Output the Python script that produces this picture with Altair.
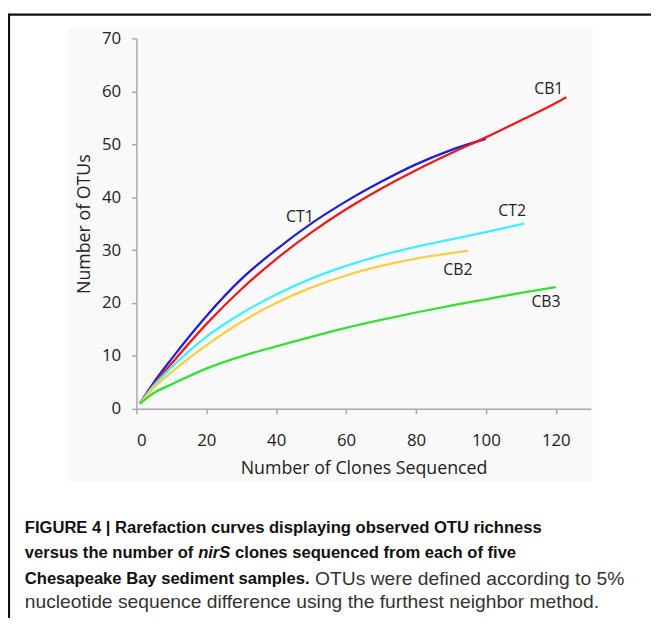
import altair as alt
import pandas as pd

# ---- data ----
ct1_x = [1, 5, 10, 20, 30, 40, 50, 60, 70, 80, 90, 100]
ct1_y = [1, 5.0, 9.4, 17.5, 24.5, 30.1, 35.0, 39.2, 42.9, 46.2, 48.9, 51.0]

cb1_x = [1, 5, 10, 20, 30, 40, 50, 60, 70, 80, 90, 100, 110, 120, 123]
cb1_y = [1, 4.6, 8.5, 16.0, 22.6, 28.3, 33.3, 37.7, 41.6, 45.1, 48.3, 51.3, 54.5, 57.8, 58.9]

ct2_x = [1, 5, 10, 20, 30, 40, 50, 60, 70, 80, 90, 100, 111]
ct2_y = [1, 4.4, 7.8, 13.6, 18.0, 21.6, 24.6, 27.0, 29.0, 30.6, 32.0, 33.4, 35.0]

cb2_x = [1, 5, 10, 20, 30, 40, 50, 60, 70, 80, 90, 95]
cb2_y = [1, 4.0, 6.9, 12.0, 16.4, 20.0, 22.9, 25.2, 27.0, 28.4, 29.4, 29.9]

cb3_x = [1, 5, 10, 20, 30, 40, 50, 60, 70, 80, 90, 100, 110, 120]
cb3_y = [1, 3.0, 4.6, 7.6, 9.9, 11.8, 13.6, 15.3, 16.8, 18.2, 19.5, 20.7, 21.9, 23.0]

series_names = ["CT1", "CB1", "CT2", "CB2", "CB3"]
series_colors = ["#1f1fd6", "#f01818", "#3ff0ff", "#f7cf45", "#34e034"]

label_text = ["CB1", "CT1", "CT2", "CB2", "CB3"]
label_x = [118.0, 46.8, 107.5, 92.0, 117.2]
label_y = [60.5, 36.2, 37.3, 26.2, 20.1]

x_ticks = list(range(0, 131, 10))
y_ticks = list(range(0, 71, 5))

caption_lines = [
    "FIGURE 4 | Rarefaction curves displaying observed OTU richness",
    "versus the number of",
    "nirS",
    "clones sequenced from each of five",
    "Chesapeake Bay sediment samples.",
    "OTUs were defined according to 5%",
    "nucleotide sequence difference using the furthest neighbor method.",
]

rows = []
for name, xs, ys in [("CT1", ct1_x, ct1_y), ("CB1", cb1_x, cb1_y),
                     ("CT2", ct2_x, ct2_y), ("CB2", cb2_x, cb2_y),
                     ("CB3", cb3_x, cb3_y)]:
    for i, (xv, yv) in enumerate(zip(xs, ys)):
        rows.append({"series": name, "clones": xv, "otus": yv, "order": i})
df = pd.DataFrame(rows)
labels_df = pd.DataFrame({"text": label_text, "clones": label_x, "otus": label_y})

AX = "#a9a9a9"
FONT = "Open Sans"

x_enc = alt.X(
    "clones:Q",
    scale=alt.Scale(domain=[0, 130], nice=False, zero=True),
    axis=alt.Axis(
        values=x_ticks,
        labelExpr="(datum.value % 20 == 0 && datum.value <= 120) ? datum.label : ''",
        title="Number of Clones Sequenced",
        grid=False, domainColor=AX, domainWidth=1.5, tickColor=AX, tickWidth=1.5,
        tickSize=5, labelFont=FONT, labelFontSize=17, labelColor="#222222",
        labelPadding=19, titleFont=FONT, titleFontSize=18, titleFontWeight="normal",
        titleColor="#222222", titlePadding=12, labelOverlap=False, zindex=2,
    ),
)
y_enc = alt.Y(
    "otus:Q",
    scale=alt.Scale(domain=[0, 70], nice=False),
    axis=alt.Axis(
        values=y_ticks,
        labelExpr="datum.value % 10 == 0 ? datum.label : ''",
        title="Number of OTUs",
        grid=False, domainColor=AX, domainWidth=1.5, tickColor=AX, tickWidth=1.5,
        tickSize=5, labelFont=FONT, labelFontSize=17, labelColor="#222222",
        labelPadding=11, titleFont=FONT, titleFontSize=18, titleFontWeight="normal",
        titleColor="#222222", titlePadding=8, labelOverlap=False, zindex=2,
    ),
)

color_enc = alt.Color("series:N", scale=alt.Scale(domain=series_names, range=series_colors), legend=None)

# first copy of the lines carries the axes; it is covered by the panel background
lines_axes = alt.Chart(df).mark_line(interpolate="monotone", strokeWidth=2.3).encode(
    x=x_enc, y=y_enc, color=color_enc, order="order:Q",
)
lines = alt.Chart(df).mark_line(interpolate="monotone", strokeWidth=2.3).encode(
    x="clones:Q", y="otus:Q", color=color_enc, order="order:Q",
)

texts = alt.Chart(labels_df).mark_text(font=FONT, fontSize=16, color="#222222").encode(
    x="clones:Q", y="otus:Q", text="text:N"
)

# ---- frame, panel background and caption (page-level decoration) ----
cap_df = pd.DataFrame({"t": [0]})

panel_bg = alt.Chart(cap_df).mark_rect(color="#f9f9f9").encode(
    x=alt.value(-69), x2=alt.value(462), y=alt.value(-10), y2=alt.value(448)
)

BOLDF = "Liberation Sans"
REGF = "Liberation Sans"
cap_y = [496, 521, 547, 571]
cx = -113
BS = 16.8
RS = 19.5

def cap(text, x, y, weight="bold", style="normal", font=BOLDF, size=BS, color="#111111"):
    return alt.Chart(cap_df).mark_text(
        text=text, align="left", baseline="middle", font=font, fontSize=size,
        fontWeight=weight, fontStyle=style, color=color,
    ).encode(x=alt.value(x), y=alt.value(y))

caption = [
    cap(caption_lines[0], cx, cap_y[0]),
    cap(caption_lines[1], cx, cap_y[1]),
    cap(caption_lines[2], 62.5, cap_y[1], style="italic"),
    cap(caption_lines[3], 99.9, cap_y[1]),
    cap(caption_lines[4], cx, cap_y[2]),
    cap(caption_lines[5], 180.9, cap_y[2], weight="normal", font=REGF, size=RS, color="#333333"),
    cap(caption_lines[6], cx, cap_y[3], weight="normal", font=REGF, size=RS, color="#333333"),
]

top_border = alt.Chart(cap_df).mark_rule(color="#111111", strokeWidth=2.2).encode(
    x=alt.value(-130), x2=alt.value(530), y=alt.value(-24)
)
left_border = alt.Chart(cap_df).mark_rule(color="#111111", strokeWidth=2.2).encode(
    x=alt.value(-129), y=alt.value(-25), y2=alt.value(600)
)

chart = alt.layer(lines_axes, panel_bg, lines, texts, top_border, left_border, *caption).properties(
    width=460, height=375,
    padding={"left": 130, "top": 27, "right": 61, "bottom": 208},
    autosize=alt.AutoSizeParams(type="none"),
).configure_view(stroke=None).configure(background="white")

chart.save("out.html", embed_options={"renderer": "svg", "actions": False})
